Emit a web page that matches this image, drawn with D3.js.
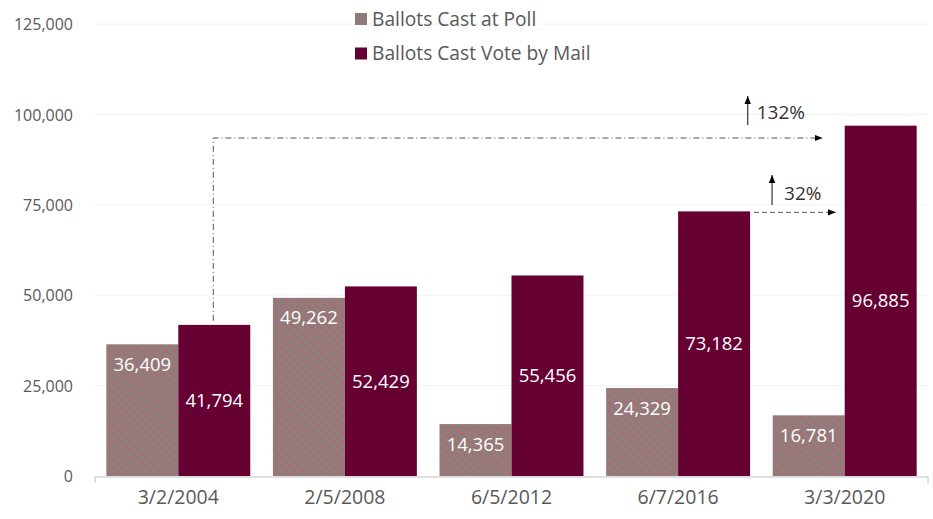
<!DOCTYPE html>
<html><head><meta charset="utf-8">
<script src="https://cdn.jsdelivr.net/npm/d3@7"></script>
<style>body{margin:0;background:#fff;}svg{display:block;font-family:"Open Sans",sans-serif;}</style>
</head><body><svg id="c" width="933" height="519"></svg>
<script>
const categories = ["3/2/2004","2/5/2008","6/5/2012","6/7/2016","3/3/2020"];
const seriesNames = ["Ballots Cast at Poll","Ballots Cast Vote by Mail"];
const pollValues = [36409,49262,14365,24329,16781];
const mailValues = [41794,52429,55456,73182,96885];
const yTicks = [0,25000,50000,75000,100000,125000];
const annotations = [
  {from:0, to:4, label:"132%"},
  {from:3, to:4, label:"32%"}
];

(function(){
const svg = d3.select("#c");
const pL = 95, pR = 928, pT = 24, pB = 476;
const x = d3.scaleBand().domain(categories).range([pL,pR]).paddingInner(0.136).paddingOuter(0.068);
const xs = d3.scaleBand().domain([0,1]).range([0,x.bandwidth()]);
const y = d3.scaleLinear().domain([0,125000]).range([pB,pT]);

const defs = svg.append("defs");
const pat = defs.append("pattern").attr("id","hatch").attr("patternUnits","userSpaceOnUse")
  .attr("width",6).attr("height",6).attr("patternTransform","rotate(-45)");
pat.append("rect").attr("width",6).attr("height",6).attr("fill","#8a8080");
pat.append("rect").attr("width",3).attr("height",6).attr("fill","#a47173");

const mailColor = "#660033";
const grid = svg.append("g");
yTicks.forEach(t=>{
  if(t>0) grid.append("line").attr("x1",pL).attr("x2",pR).attr("y1",y(t)).attr("y2",y(t)).attr("stroke","#f2f2f2").attr("stroke-width",1);
});
const yAxis = d3.axisLeft(y).tickValues(yTicks).tickSize(0).tickPadding(0).tickFormat(d3.format(","));
const ga = svg.append("g").attr("transform","translate(73,0)").call(yAxis);
ga.select(".domain").remove();
ga.selectAll("text").attr("font-size",16).attr("fill","#595959").attr("dy","0.35em").attr("font-family","Open Sans");

const g = svg.append("g");
categories.forEach((c,i)=>{
  const vals=[pollValues[i],mailValues[i]];
  vals.forEach((v,j)=>{
    g.append("rect").attr("x",x(c)+xs(j)).attr("y",y(v)).attr("width",xs.bandwidth()).attr("height",y(0)-y(v))
      .attr("fill", j===0?"url(#hatch)":mailColor);
  });
  g.append("text").attr("x",x(c)+xs(0)+xs.bandwidth()/2).attr("y",y(pollValues[i])+20)
    .attr("dy","0.35em").attr("text-anchor","middle").attr("fill","#fff").attr("font-size",18.5).text(d3.format(",")(pollValues[i]));
  g.append("text").attr("x",x(c)+xs(1)+xs.bandwidth()/2).attr("y",(y(mailValues[i])+y(0))/2)
    .attr("dy","0.35em").attr("text-anchor","middle").attr("fill","#fff").attr("font-size",18.5).text(d3.format(",")(mailValues[i]));
});

const xAxis = d3.axisBottom(x).tickSize(0).tickPadding(20);
const gx = svg.append("g").attr("transform",`translate(0,${pB+1})`).call(xAxis);
gx.select(".domain").attr("stroke","#bfbfbf").attr("d",`M${pL},6V0H${pR}V6`);
gx.selectAll("text").attr("font-size",19.5).attr("fill","#595959").attr("dy","0.35em").attr("font-family","Open Sans");

const lg = svg.append("g");
seriesNames.forEach((n,i)=>{
  const yy = 19 + i*34.5;
  lg.append("rect").attr("x",355).attr("y",yy-6).attr("width",12).attr("height",12).attr("fill", i===0?"#8c7b7a":mailColor);
  lg.append("text").attr("x",372).attr("y",yy).attr("dy","0.35em").attr("font-size",19.2).attr("fill","#595959").text(n);
});

const mk = defs.append("marker").attr("id","ah").attr("viewBox","0 0 10 10").attr("refX",10).attr("refY",5)
  .attr("markerWidth",8).attr("markerHeight",8).attr("orient","auto-start-reverse").attr("markerUnits","userSpaceOnUse");
mk.append("path").attr("d","M0,1L10,5L0,9Z").attr("fill","#000");
const ag = svg.append("g");
{
  const a = annotations[0];
  const x0 = x(categories[a.from])+xs(1)+xs.bandwidth()/2 - 1;
  const yTop = 138;
  const x1 = x(categories[a.to])+xs(1)-22;
  ag.append("path").attr("d",`M${x0},${y(mailValues[a.from])-4}V${yTop}H${x1}`).attr("fill","none")
    .attr("stroke","#555").attr("stroke-width",1).attr("stroke-dasharray","6,3,1,3").attr("marker-end","url(#ah)");
  const ax = x1-75;
  ag.append("line").attr("x1",ax).attr("x2",ax).attr("y1",125).attr("y2",96).attr("stroke","#444").attr("stroke-width",1.3).attr("marker-end","url(#ah)");
  ag.append("text").attr("x",ax+9).attr("y",112).attr("font-size",19).attr("fill","#333").attr("dy","0.35em").text(a.label);
}
{
  const a = annotations[1];
  const x0 = x(categories[a.from])+xs(1)+xs.bandwidth();
  const yy = y(mailValues[a.from])+1;
  const x1 = x(categories[a.to])+xs(1)-9;
  ag.append("line").attr("x1",x0+4).attr("x2",x1).attr("y1",yy).attr("y2",yy)
    .attr("stroke","#555").attr("stroke-width",1).attr("stroke-dasharray","5,3").attr("marker-end","url(#ah)");
  const ax = x0+22;
  ag.append("line").attr("x1",ax).attr("x2",ax).attr("y1",205).attr("y2",175).attr("stroke","#444").attr("stroke-width",1.3).attr("marker-end","url(#ah)");
  ag.append("text").attr("x",ax+12).attr("y",193).attr("font-size",19).attr("fill","#333").attr("dy","0.35em").text(a.label);
}
})();
</script></body></html>
